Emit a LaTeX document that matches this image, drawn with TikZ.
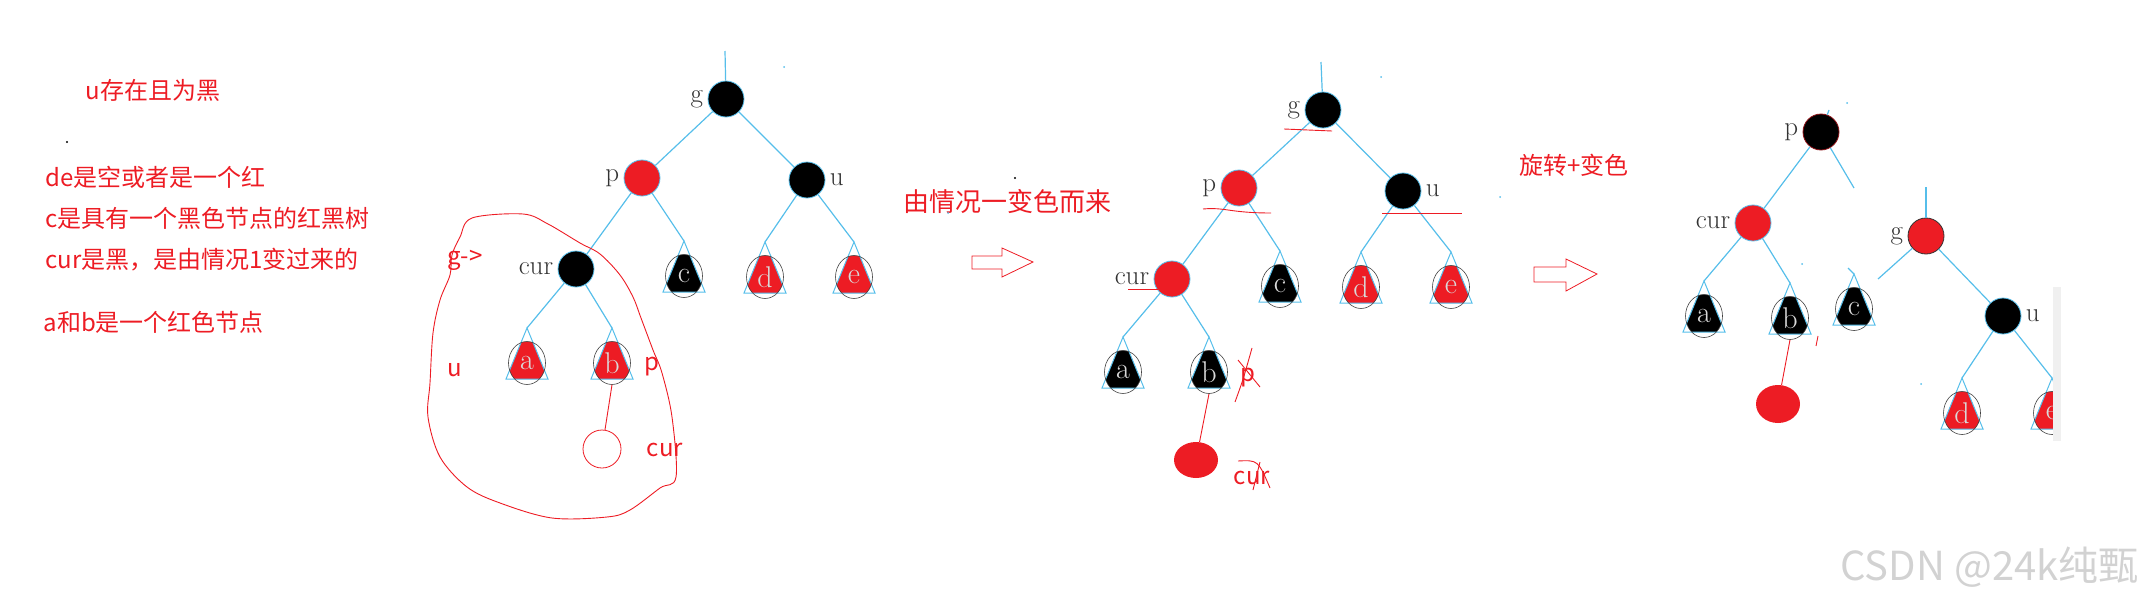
\documentclass[tikz,border=0pt]{standalone}
\usepackage{fontspec}
\newfontfamily\cjk{Noto Sans CJK SC}
\usetikzlibrary{calc, shapes.geometric, positioning}
\definecolor{treeblue}{HTML}{56BEEA}
\definecolor{annored}{HTML}{ED1C24}
\definecolor{lblgray}{HTML}{333333}

% subtree: name, apex, fill colour, letter
\newcommand{\subtree}[4]{%
  \coordinate (#1) at (#2);
  \begin{scope}
    \clip ($(#1)+(-21,51)$) -- (#1) -- ($(#1)+(21,51)$) -- cycle;
    \fill[#3] ($(#1)+(0,35)$) ellipse (18.5pt and 21.5pt);
  \end{scope}
  \draw[tri] ($(#1)+(-21,51)$) -- (#1) -- ($(#1)+(21,51)$) -- cycle;
  \node[subel] (#1e) at ($(#1)+(0,35)$) {#4};
}

\begin{document}
\begin{tikzpicture}[x=1pt, y=-1pt,
    rbnode/.style={circle, minimum size=36pt, inner sep=0pt, draw=treeblue, line width=0.8pt, fill=#1},
    treeline/.style={draw=treeblue, line width=1.2pt},
    tri/.style={draw=treeblue, line width=1pt},
    subel/.style={ellipse, draw=black!75, line width=0.6pt, minimum width=37pt, minimum height=43pt,
                  inner sep=0pt, text=white!85!black, font=\fontsize{30}{32}\selectfont},
    anno/.style={text=annored, font=\cjk\fontsize{24}{28}\selectfont},
    redline/.style={draw=annored, line width=0.9pt},
    hollow/.style={draw=annored, line width=0.8pt},
    every label/.style={text=lblgray, font=\fontsize{27}{30}\selectfont},
    label distance=1pt
]
\useasboundingbox (0,0) rectangle (2147,605);

% notes on the left
\node[anno, anchor=west] (t1) at (82,90)  {u存在且为黑};
\node[anno, anchor=west] (t2) at (42,177) {de是空或者是一个红};
\node[anno, anchor=west] (t3) at (42,218) {c是具有一个黑色节点的红黑树};
\node[anno, anchor=west] (t4) at (42,260) {cur是黑，是由情况1变过来的};
\node[anno, anchor=west] (t5) at (40,322) {a和b是一个红色节点};
\fill (67,142) circle (1.2pt);

% first tree
\coordinate (g1top) at (725,51);
\node[rbnode=black, label=left:g] (g1) at (726,99) {};
\node[rbnode=annored, label=left:p] (p1) at (642,178) {};
\node[rbnode=black, label=right:u] (u1) at (807,180) {};
\node[rbnode=black, label=left:cur] (cur1) at (576,269) {};
\subtree{c1}{684,241}{black}{c}
\subtree{d1}{765,242}{annored}{d}
\subtree{e1}{854,242}{annored}{e}
\subtree{a1}{527,328}{annored}{a}
\subtree{b1}{612,328}{annored}{b}
\draw[treeline] (g1top) -- (g1);
\draw[treeline] (g1) -- (p1) (g1) -- (u1);
\draw[treeline] (p1) -- (cur1) (p1) -- (c1);
\draw[treeline] (u1) -- (d1) (u1) -- (e1);
\draw[treeline] (cur1) -- (a1) (cur1) -- (b1);
\fill[treeblue] (784,67) circle (1pt);

\node[anno] (gto) at (465,260) {g->};
\node[anno] (newu1) at (455,370) {u};
\node[anno] (newp1) at (652,367) {p};
\node[circle, draw=annored, line width=0.8pt, minimum size=38pt, inner sep=0pt] (hcur1) at (602,449) {};
\node[anno] (newcur1) at (665,450) {cur};
\draw[redline] (b1e.south) -- (hcur1);
\draw[redline] plot[smooth cycle, tension=0.55] coordinates {
  (460,237) (472,218) (523,214) (548,224) (580,243) (600,254) (620,275) (633,297)
  (641,318) (653,350) (662,373) (672,417) (676,477) (660,488) (630,510) (607,517)
  (552,518) (500,503) (467,487) (440,457) (428,417) (430,383) (433,333) (440,300)
  (450,275) (452,255)};

% first step
\node[anno, font=\cjk\fontsize{26}{30}\selectfont, anchor=west] (step1) at (900,202) {由情况一变色而来};
\fill (1015,178) circle (1.2pt);
\fill[treeblue] (948,213) circle (1pt);
\draw[hollow] (972,256) -- ++(30,0) -- ++(0,-8) -- ++(31,14) -- ++(-31,15) -- ++(0,-8) -- ++(-30,0) -- cycle;

% second tree
\coordinate (g2top) at (1321,62);
\node[rbnode=black, label=left:g] (g2) at (1323,110) {};
\node[rbnode=annored, label=left:p] (p2) at (1239,188) {};
\node[rbnode=black, label=right:u] (u2) at (1403,191) {};
\node[rbnode=annored, label=left:cur] (cur2) at (1172,279) {};
\subtree{c2}{1280,251}{black}{c}
\subtree{d2}{1361,252}{annored}{d}
\subtree{e2}{1451,252}{annored}{e}
\subtree{a2}{1123,337}{black}{a}
\subtree{b2}{1209,337}{black}{b}
\draw[treeline] (g2top) -- (g2);
\draw[treeline] (g2) -- (p2) (g2) -- (u2);
\draw[treeline] (p2) -- (cur2) (p2) -- (c2);
\draw[treeline] (u2) -- (d2) (u2) -- (e2);
\draw[treeline] (cur2) -- (a2) (cur2) -- (b2);
\fill[treeblue] (1381,77) circle (1pt);
\fill[treeblue] (1500,197) circle (1pt);

% red marks on the second tree
\draw[redline] (1284,129) -- (1332,131);
\draw[redline] (1203,209) .. controls (1225,207) and (1230,213) .. (1271,213);
\draw[redline] (1382,213) -- (1462,213);
\draw[redline] (1128,289) -- (1158,289);
\node[ellipse, fill=annored, minimum width=44pt, minimum height=36pt, inner sep=0pt] (ncur2) at (1196,460) {};
\draw[redline] (b2e.south) -- (ncur2);
\node[anno] (oldp2) at (1248,378) {p};
\draw[redline] (1235,402) .. controls (1243,380) .. (1252,348);
\draw[redline] (1238,360) -- (1260,387);
\node[anno] (oldcur2) at (1252,478) {cur};
\draw[redline] (1238,461) .. controls (1258,460) .. (1270,488);
\draw[redline] (1260,462) -- (1253,490);

% second step
\node[anno, anchor=west] (step2) at (1516,165) {旋转+变色};
\draw[hollow] (1534,267) -- ++(32,0) -- ++(0,-8) -- ++(31,15) -- ++(-31,17) -- ++(0,-9) -- ++(-32,0) -- cycle;

% third tree
\coordinate (p3up) at (1829,110);
\coordinate (p3r) at (1854,188);
\coordinate (g3top) at (1926,187);
\coordinate (g3l) at (1878,279);
\coordinate (c3s) at (1848,268);
\node[rbnode=black, draw=annored!60!black, label=left:p] (p3) at (1821,132) {};
\node[rbnode=annored, label=left:cur] (cur3) at (1753,223) {};
\node[rbnode=annored, draw=black!80, label=left:g] (g3) at (1926,236) {};
\node[rbnode=black, label=right:u] (u3) at (2003,316) {};
\subtree{a3}{1704,281}{black}{a}
\subtree{b3}{1790,283}{black}{b}
\subtree{c3}{1854,274}{black}{c}
\subtree{d3}{1962,378}{annored}{d}
\draw[treeline] (p3) -- (p3up);
\draw[treeline] (p3) -- (cur3) (p3) -- (p3r);
\draw[treeline] (g3top) -- (g3);
\draw[treeline] (g3) -- (g3l) (g3) -- (u3);
\draw[treeline] (c3s) -- (c3);
\draw[treeline] (cur3) -- (a3) (cur3) -- (b3);
\draw[treeline] (u3) -- (d3);
\begin{scope}
  \clip (1980,300) rectangle (2053,460);
  \subtree{e3}{2052,378}{annored}{e}
  \draw[treeline] (u3) -- (e3);
\end{scope}
\fill[gray!12] (2053,287) rectangle (2061,441);
\fill[treeblue] (1847,103) circle (1pt);
\fill[treeblue] (1802,264) circle (1pt);
\fill[treeblue] (1921,384) circle (1pt);
\node[ellipse, fill=annored, minimum width=44pt, minimum height=38pt, inner sep=0pt] (ncur3) at (1778,404) {};
\draw[redline] (b3e.south) -- (ncur3);
\draw[redline] (1816,346) -- (1818,336);

% watermark
\node[text=gray!35, font=\cjk\fontsize{40}{42}\selectfont, anchor=east] (wm) at (2142,567) {CSDN @24k纯甄};
\end{tikzpicture}
\end{document}
